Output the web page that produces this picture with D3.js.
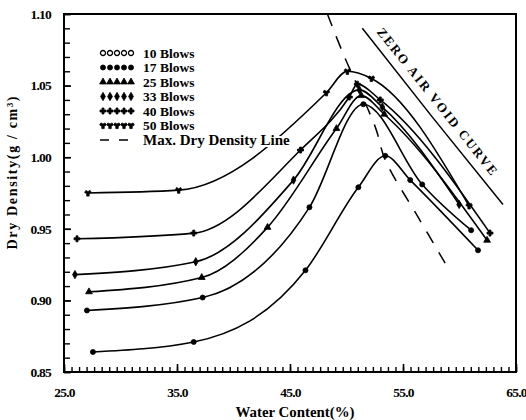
<!DOCTYPE html>
<html>
<head>
<meta charset="utf-8">
<script src="https://cdn.jsdelivr.net/npm/d3@7"></script>
<style>
  html, body { margin: 0; padding: 0; background: #fff; }
  svg { display: block; }
  text { font-family: "Liberation Serif", "Times New Roman", serif; font-weight: bold; fill: #000; }
</style>
</head>
<body>
<svg id="chart" width="526" height="420"></svg>
<script>
// Proctor compaction curves: dry density against water content for several compaction efforts
const blowCounts = [10, 17, 25, 33, 40, 50];

const water10   = [27.56, 36.48, 46.37, 51.05, 53.43, 55.64, 61.64];
const density10 = [0.864, 0.871, 0.921, 0.979, 1.001, 0.984, 0.935];

const water17   = [27.03, 37.27, 46.72, 51.49, 56.70, 61.03];
const density17 = [0.893, 0.902, 0.965, 1.037, 0.981, 0.949];

const water25   = [27.21, 37.19, 43.01, 49.11, 51.31, 53.34, 62.44];
const density25 = [0.906, 0.916, 0.951, 1.020, 1.043, 1.030, 0.942];

const water33   = [25.97, 36.66, 45.31, 51.14, 53.17, 59.97];
const density33 = [0.918, 0.927, 0.984, 1.047, 1.035, 0.967];

const water40   = [26.15, 36.48, 45.93, 50.25, 50.96, 52.99, 62.70];
const density40 = [0.943, 0.947, 1.005, 1.042, 1.051, 1.040, 0.947];

const water50   = [27.12, 35.15, 48.22, 50.08, 52.20, 60.85];
const density50 = [0.975, 0.977, 1.045, 1.060, 1.055, 0.966];

// line of optimums through the peaks
const maxLineWater   = [48.31, 49.72, 52.55, 53.43, 56.35, 58.73];
const maxLineDensity = [1.100, 1.072, 1.021, 0.998, 0.958, 0.926];

// zero air void curve
const zavWater   = [51.40, 57.60, 63.85];
const zavDensity = [1.090, 1.028, 0.967];

const xTickLabels = ["25.0", "35.0", "45.0", "55.0", "65.0"];
const yTickLabels = ["0.85", "0.90", "0.95", "1.00", "1.05", "1.10"];

const waterSets = [water10, water17, water25, water33, water40, water50];
const densitySets = [density10, density17, density25, density33, density40, density50];
const shapes = [d3.symbolCircle, d3.symbolCircle, d3.symbolTriangle, d3.symbolDiamond, d3.symbolCross, d3.symbolWye];
const solid = [false, true, true, true, true, true];

const series = blowCounts.map((b, i) => ({
  label: b + " Blows",
  points: waterSets[i].map((w, j) => [w, densitySets[i][j]]),
  shape: shapes[i],
  solid: solid[i]
}));

const svg = d3.select("#chart");
svg.append("rect").attr("width", 526).attr("height", 420).attr("fill", "#fff");

const plotLeft = 64, plotRight = 516, plotTop = 14, plotBottom = 372;
const x = d3.scaleLinear().domain([25, 65]).range([plotLeft, plotRight]);
const y = d3.scaleLinear().domain([0.85, 1.10]).range([plotBottom, plotTop]);

// minor ticks
const xMinor = d3.range(0, 61).map(k => 25 + k * 2 / 3).filter(v => v <= 65.001);
const yMinor = d3.range(0, 26).map(k => 0.85 + k * 0.01);

svg.append("g")
  .attr("transform", `translate(0,${plotBottom})`)
  .call(d3.axisBottom(x).tickValues(xMinor).tickSizeInner(-5).tickSizeOuter(0).tickFormat(""))
  .call(g => g.select(".domain").remove())
  .call(g => g.selectAll("line").attr("stroke", "#000").attr("stroke-width", 1.4));

svg.append("g")
  .attr("transform", `translate(${plotLeft},0)`)
  .call(d3.axisLeft(y).tickValues(yMinor).tickSizeInner(-6).tickSizeOuter(0).tickFormat(""))
  .call(g => g.select(".domain").remove())
  .call(g => g.selectAll("line").attr("stroke", "#000").attr("stroke-width", 1.4));

// major ticks with labels
svg.append("g")
  .attr("transform", `translate(0,${plotBottom})`)
  .call(d3.axisBottom(x).tickValues(xTickLabels.map(Number)).tickSizeInner(-8).tickSizeOuter(0)
        .tickPadding(15).tickFormat((d, i) => xTickLabels[i]))
  .call(g => g.select(".domain").remove())
  .call(g => g.selectAll("line").attr("stroke", "#000").attr("stroke-width", 1.6))
  .call(g => g.selectAll("text").attr("font-size", 13.5).attr("letter-spacing", -0.8)
        .attr("font-family", "Liberation Serif").attr("font-weight", "bold").attr("fill", "#000"));

svg.append("g")
  .attr("transform", `translate(${plotLeft},0)`)
  .call(d3.axisLeft(y).tickValues(yTickLabels.map(Number)).tickSizeInner(-7).tickSizeOuter(0)
        .tickPadding(13).tickFormat((d, i) => yTickLabels[i]))
  .call(g => g.select(".domain").remove())
  .call(g => g.selectAll("line").attr("stroke", "#000").attr("stroke-width", 1.6))
  .call(g => g.selectAll("text").attr("font-size", 13.5).attr("letter-spacing", -0.8)
        .attr("font-family", "Liberation Serif").attr("font-weight", "bold").attr("fill", "#000"));

// frame
svg.append("rect")
  .attr("x", plotLeft).attr("y", plotTop)
  .attr("width", plotRight - plotLeft).attr("height", plotBottom - plotTop)
  .attr("fill", "none").attr("stroke", "#000").attr("stroke-width", 2);

// axis titles
svg.append("text")
  .attr("x", 295).attr("y", 412)
  .attr("text-anchor", "middle").attr("dominant-baseline", "central")
  .attr("font-size", 14).attr("textLength", 119).attr("lengthAdjust", "spacingAndGlyphs")
  .text("Water Content(%)");

svg.append("text")
  .attr("transform", "translate(12,173) rotate(-90)")
  .attr("text-anchor", "middle").attr("dominant-baseline", "central")
  .attr("font-size", 14).attr("textLength", 153).attr("lengthAdjust", "spacing")
  .text("Dry Density(g / cm\u00B3)");

const line = d3.line().x(d => x(d[0])).y(d => y(d[1])).curve(d3.curveMonotoneX);

// zero air void curve and its label
const zavPts = zavWater.map((w, i) => [w, zavDensity[i]]);
svg.append("path").datum(zavPts)
  .attr("d", line).attr("fill", "none").attr("stroke", "#000").attr("stroke-width", 1.5);

{
  const p0 = [x(zavPts[0][0]), y(zavPts[0][1])];
  const p1 = [x(zavPts[zavPts.length - 1][0]), y(zavPts[zavPts.length - 1][1])];
  const dx = p1[0] - p0[0], dy = p1[1] - p0[1];
  const len = Math.hypot(dx, dy);
  const u = [dx / len, dy / len];
  const n = [u[1], -u[0]];
  const cx = (p0[0] + p1[0]) / 2 - 9 * u[0] + 13 * n[0];
  const cy = (p0[1] + p1[1]) / 2 - 9 * u[1] + 13 * n[1];
  const ang = Math.atan2(dy, dx) * 180 / Math.PI;
  svg.append("text")
    .attr("transform", `translate(${cx},${cy}) rotate(${ang})`)
    .attr("text-anchor", "middle").attr("dominant-baseline", "central")
    .attr("font-size", 13).attr("textLength", 184).attr("lengthAdjust", "spacing")
    .text("ZERO AIR VOID CURVE");
}

// max dry density line
const maxPts = maxLineWater.map((w, i) => [w, maxLineDensity[i]]);
svg.append("path").datum(maxPts)
  .attr("d", d3.line().x(d => x(d[0])).y(d => y(d[1])).curve(d3.curveCatmullRom))
  .attr("fill", "none").attr("stroke", "#000").attr("stroke-width", 1.5)
  .attr("stroke-dasharray", "13,11");

// compaction curves with their test points
const curves = svg.append("g");
series.forEach(s => {
  curves.append("path").datum(s.points)
    .attr("d", line).attr("fill", "none").attr("stroke", "#000").attr("stroke-width", 1.6);
  curves.selectAll(null).data(s.points).enter().append("path")
    .attr("transform", d => `translate(${x(d[0])},${y(d[1])})`)
    .attr("d", d3.symbol().type(s.shape).size(20))
    .attr("fill", "#000")
    .attr("stroke", "#000").attr("stroke-width", 0.8);
});

// legend
const legend = svg.append("g");
series.forEach((s, i) => {
  const cy = 53 + i * 14.5;
  d3.range(5).forEach(k => {
    legend.append("path")
      .attr("transform", `translate(${103 + k * 7},${cy})`)
      .attr("d", d3.symbol().type(s.shape).size(20))
      .attr("fill", s.solid ? "#000" : "#fff")
      .attr("stroke", "#000").attr("stroke-width", s.solid ? 0.8 : 1.3);
  });
  legend.append("text")
    .attr("x", 143).attr("y", cy).attr("dy", "0.35em")
    .attr("font-size", 13.5)
    .attr("stroke", "#fff").attr("stroke-width", 3).attr("paint-order", "stroke")
    .text(s.label);
});
{
  const cy = 53 + 6 * 14.5;
  legend.append("line")
    .attr("x1", 100).attr("x2", 128).attr("y1", cy).attr("y2", cy)
    .attr("stroke", "#000").attr("stroke-width", 1.6).attr("stroke-dasharray", "9,10");
  legend.append("text")
    .attr("x", 143).attr("y", cy).attr("dy", "0.35em")
    .attr("font-size", 15)
    .attr("stroke", "#fff").attr("stroke-width", 4).attr("paint-order", "stroke")
    .text("Max. Dry Density Line");
}
</script>
</body>
</html>
